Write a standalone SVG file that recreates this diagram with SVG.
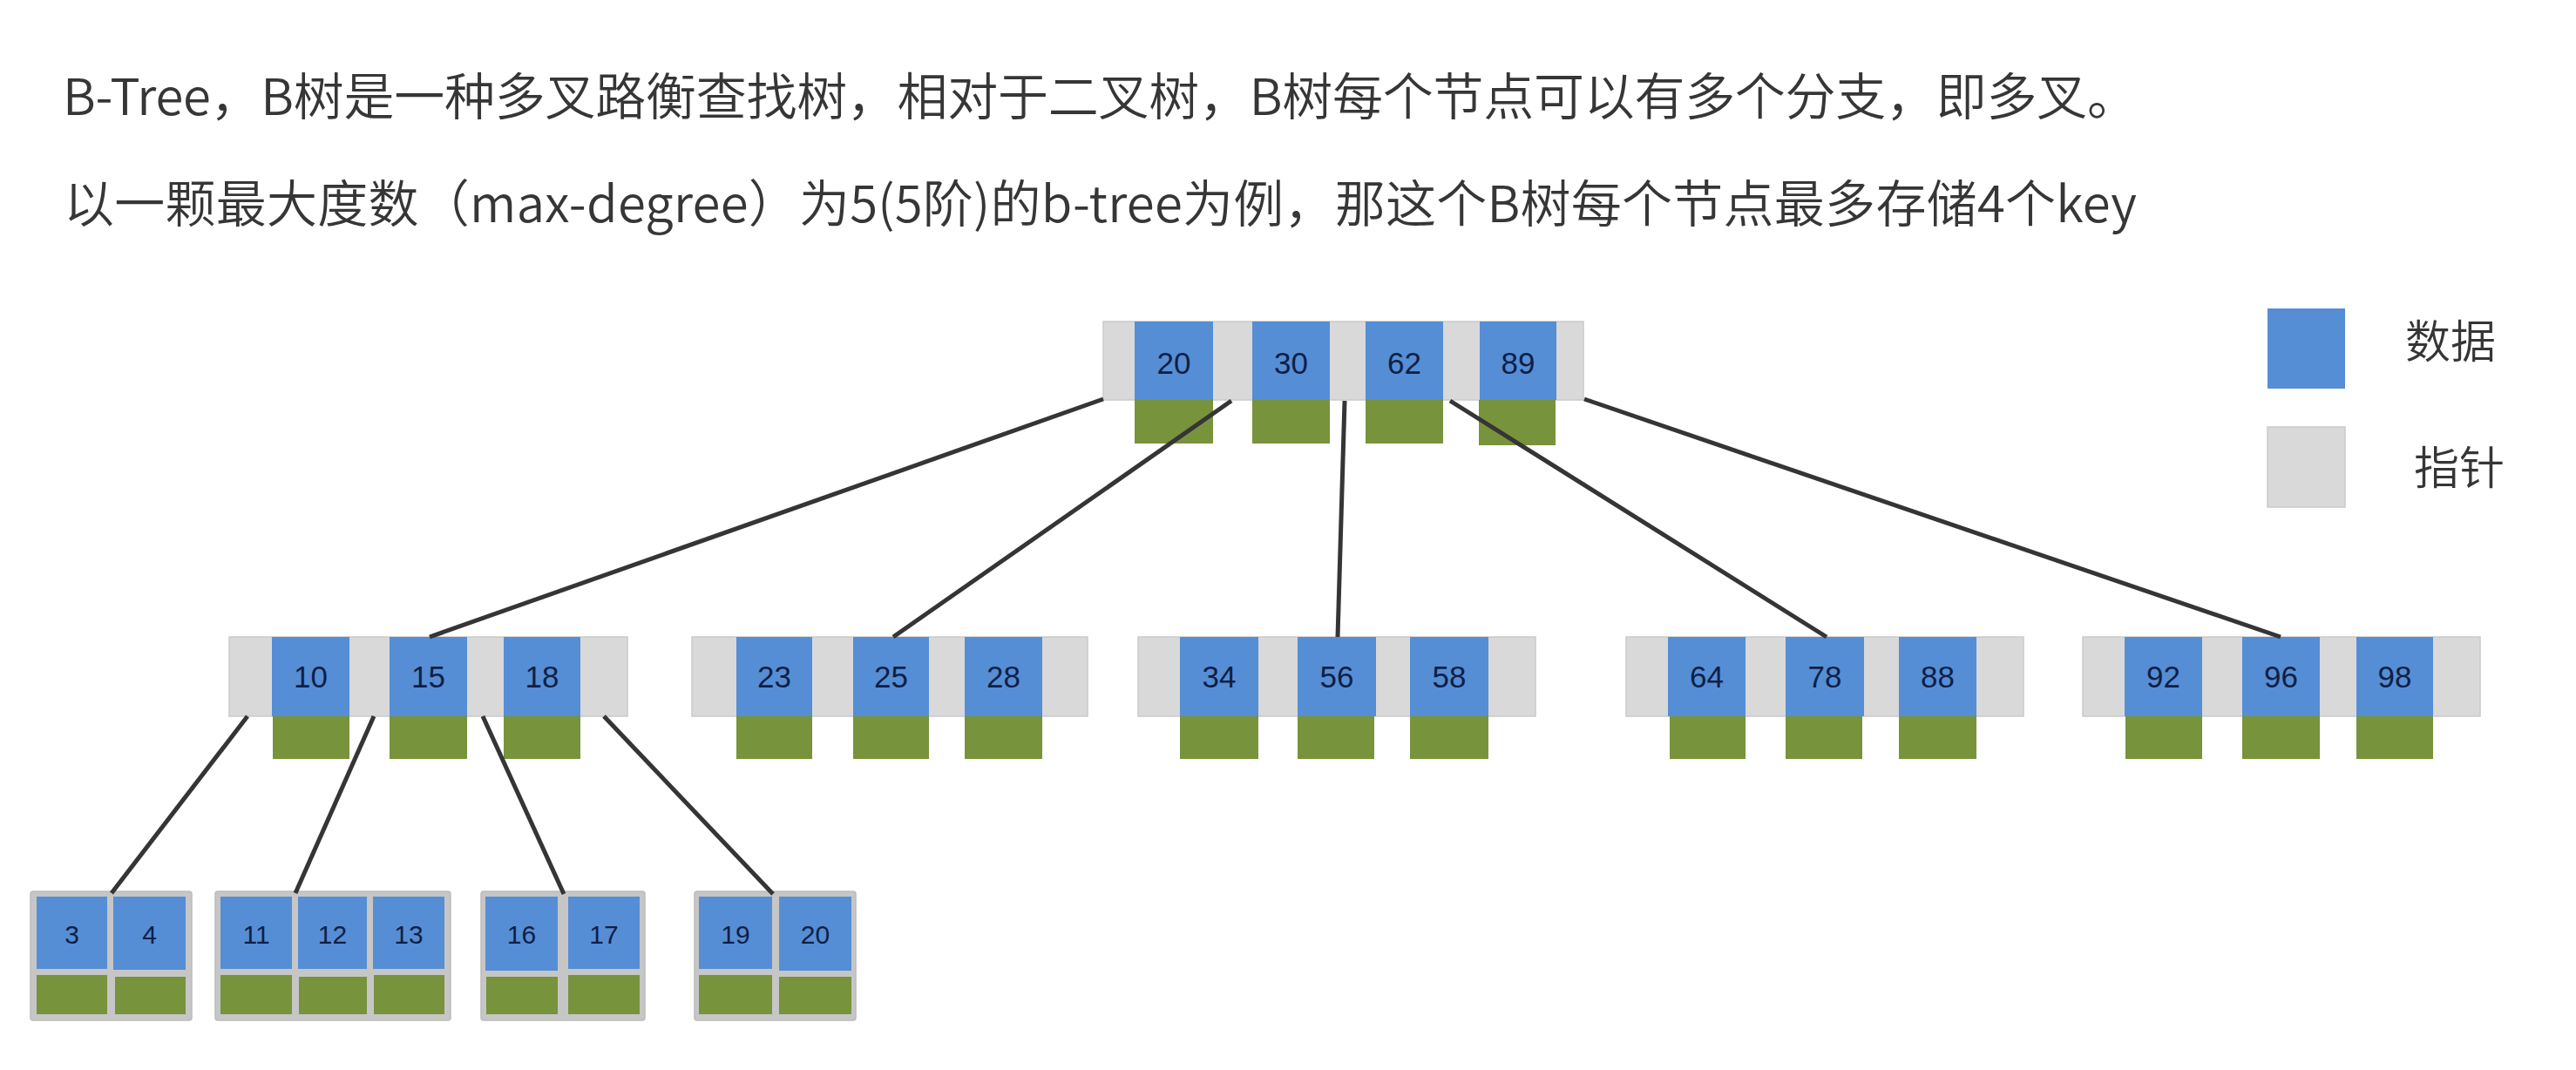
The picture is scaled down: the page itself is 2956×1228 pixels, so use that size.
<svg xmlns="http://www.w3.org/2000/svg" width="2956" height="1228" viewBox="0 0 2956 1228">
<style>
.title{font-family:"Noto Sans CJK SC","Noto Sans",sans-serif;font-size:58px;fill:#363636;font-weight:350}
.leg{font-family:"Noto Sans CJK SC","Noto Sans",sans-serif;font-size:52px;fill:#363636;font-weight:350}
.ptr{fill:#d9d9d9;stroke:#cacaca;stroke-width:1.5}
.key{fill:#558ed5}
.dat{fill:#77933c}
.num{font-family:"Liberation Sans","Noto Sans",sans-serif;font-size:35px;fill:#0f1f47;text-anchor:middle}
.lnum{font-family:"Liberation Sans","Noto Sans",sans-serif;font-size:30px;fill:#0f1f47;text-anchor:middle}
.leaf{fill:#c6c6c6;stroke:#bcbcbc;stroke-width:1.5}
.conn line{stroke:#353535;stroke-width:5;stroke-linecap:butt}
</style>
<rect width="2956" height="1228" fill="#ffffff"/>
<text class="title" x="72" y="132" textLength="2381" lengthAdjust="spacing">B-Tree，B树是一种多叉路衡查找树，相对于二叉树，B树每个节点可以有多个分支，即多叉。</text>
<text class="title" x="73" y="255" textLength="2379" lengthAdjust="spacing">以一颗最大度数（max-degree）为5(5阶)的b-tree为例，那这个B树每个节点最多存储4个key</text>

<g id="legend-data">
<rect class="key" x="2602" y="354" width="89" height="92"/>
<text class="leg" x="2760" y="411">数据</text>
</g>
<g id="legend-pointer">
<rect class="ptr" x="2602" y="490" width="89" height="92"/>
<text class="leg" x="2770" y="556">指针</text>
</g>

<g id="node-root">
<rect class="ptr" x="1266" y="369" width="551" height="90"/>
<rect class="key" x="1302" y="369" width="90" height="90"/>
<rect class="key" x="1437" y="369" width="89" height="90"/>
<rect class="key" x="1567" y="369" width="89" height="90"/>
<rect class="key" x="1698" y="369" width="88" height="90"/>
<rect class="dat" x="1302" y="459" width="90" height="50"/>
<rect class="dat" x="1437" y="459" width="89" height="50"/>
<rect class="dat" x="1567" y="459" width="89" height="50"/>
<rect class="dat" x="1697" y="459" width="88" height="52"/>
<text class="num" x="1347" y="429">20</text>
<text class="num" x="1481.5" y="429">30</text>
<text class="num" x="1611.5" y="429">62</text>
<text class="num" x="1742" y="429">89</text>
</g>

<g id="node-10-15-18">
<rect class="ptr" x="263" y="731" width="457" height="91"/>
<rect class="key" x="312" y="731" width="89" height="91"/>
<rect class="key" x="447" y="731" width="89" height="91"/>
<rect class="key" x="578" y="731" width="88" height="91"/>
<rect class="dat" x="313" y="822" width="88" height="49"/>
<rect class="dat" x="447" y="822" width="89" height="49"/>
<rect class="dat" x="578" y="822" width="88" height="49"/>
<text class="num" x="356.5" y="789">10</text>
<text class="num" x="491.5" y="789">15</text>
<text class="num" x="622" y="789">18</text>
</g>

<g id="node-23-25-28">
<rect class="ptr" x="794" y="731" width="454" height="91"/>
<rect class="key" x="845" y="731" width="87" height="91"/>
<rect class="key" x="979" y="731" width="87" height="91"/>
<rect class="key" x="1107" y="731" width="89" height="91"/>
<rect class="dat" x="845" y="822" width="87" height="49"/>
<rect class="dat" x="979" y="822" width="87" height="49"/>
<rect class="dat" x="1107" y="822" width="89" height="49"/>
<text class="num" x="888.5" y="789">23</text>
<text class="num" x="1022.5" y="789">25</text>
<text class="num" x="1151.5" y="789">28</text>
</g>

<g id="node-34-56-58">
<rect class="ptr" x="1306" y="731" width="456" height="91"/>
<rect class="key" x="1354" y="731" width="90" height="91"/>
<rect class="key" x="1489" y="731" width="90" height="91"/>
<rect class="key" x="1618" y="731" width="90" height="91"/>
<rect class="dat" x="1354" y="822" width="90" height="49"/>
<rect class="dat" x="1489" y="822" width="88" height="49"/>
<rect class="dat" x="1618" y="822" width="90" height="49"/>
<text class="num" x="1399" y="789">34</text>
<text class="num" x="1534" y="789">56</text>
<text class="num" x="1663" y="789">58</text>
</g>

<g id="node-64-78-88">
<rect class="ptr" x="1866" y="731" width="456" height="91"/>
<rect class="key" x="1914" y="731" width="89" height="91"/>
<rect class="key" x="2049" y="731" width="90" height="91"/>
<rect class="key" x="2179" y="731" width="89" height="91"/>
<rect class="dat" x="1916" y="822" width="87" height="49"/>
<rect class="dat" x="2049" y="822" width="88" height="49"/>
<rect class="dat" x="2179" y="822" width="89" height="49"/>
<text class="num" x="1958.5" y="789">64</text>
<text class="num" x="2094" y="789">78</text>
<text class="num" x="2223.5" y="789">88</text>
</g>

<g id="node-92-96-98">
<rect class="ptr" x="2390" y="731" width="456" height="91"/>
<rect class="key" x="2438" y="731" width="89" height="91"/>
<rect class="key" x="2573" y="731" width="89" height="91"/>
<rect class="key" x="2704" y="731" width="88" height="91"/>
<rect class="dat" x="2439" y="822" width="88" height="49"/>
<rect class="dat" x="2573" y="822" width="89" height="49"/>
<rect class="dat" x="2704" y="822" width="88" height="49"/>
<text class="num" x="2482.5" y="789">92</text>
<text class="num" x="2617.5" y="789">96</text>
<text class="num" x="2748" y="789">98</text>
</g>

<g id="leaf-3-4">
<rect class="leaf" x="35" y="1023" width="185" height="148" rx="3"/>
<rect class="key" x="42" y="1029" width="81" height="83"/>
<rect class="key" x="130" y="1029" width="83" height="84"/>
<rect class="dat" x="42" y="1119" width="81" height="45"/>
<rect class="dat" x="132" y="1121" width="81" height="43"/>
<text class="lnum" x="82.5" y="1083">3</text>
<text class="lnum" x="171.5" y="1083">4</text>
</g>

<g id="leaf-11-12-13">
<rect class="leaf" x="247" y="1023" width="270" height="148" rx="3"/>
<rect class="key" x="253" y="1029" width="82" height="83"/>
<rect class="key" x="342" y="1029" width="79" height="83"/>
<rect class="key" x="428" y="1029" width="82" height="83"/>
<rect class="dat" x="253" y="1119" width="82" height="45"/>
<rect class="dat" x="343" y="1121" width="78" height="43"/>
<rect class="dat" x="429" y="1119" width="81" height="45"/>
<text class="lnum" x="294" y="1083">11</text>
<text class="lnum" x="381.5" y="1083">12</text>
<text class="lnum" x="469" y="1083">13</text>
</g>

<g id="leaf-16-17">
<rect class="leaf" x="552" y="1023" width="188" height="148" rx="3"/>
<rect class="key" x="557" y="1029" width="83" height="85"/>
<rect class="key" x="652" y="1029" width="82" height="83"/>
<rect class="dat" x="558" y="1121" width="82" height="43"/>
<rect class="dat" x="652" y="1119" width="82" height="45"/>
<text class="lnum" x="598.5" y="1083">16</text>
<text class="lnum" x="693" y="1083">17</text>
</g>

<g id="leaf-19-20">
<rect class="leaf" x="797" y="1023" width="185" height="148" rx="3"/>
<rect class="key" x="802" y="1029" width="84" height="83"/>
<rect class="key" x="894" y="1029" width="83" height="85"/>
<rect class="dat" x="802" y="1119" width="84" height="45"/>
<rect class="dat" x="894" y="1121" width="83" height="43"/>
<text class="lnum" x="844" y="1083">19</text>
<text class="lnum" x="935.5" y="1083">20</text>
</g>

<g id="connectors" class="conn">
<line x1="1266" y1="458" x2="493" y2="731"/>
<line x1="1413" y1="460" x2="1025" y2="731"/>
<line x1="1543" y1="460" x2="1535" y2="731"/>
<line x1="1664" y1="460" x2="2096" y2="731"/>
<line x1="1818" y1="458" x2="2617" y2="731"/>
<line x1="284" y1="822" x2="128" y2="1025"/>
<line x1="429" y1="822" x2="339" y2="1025"/>
<line x1="554" y1="822" x2="647" y2="1026"/>
<line x1="693" y1="822" x2="887" y2="1026"/>
</g>
</svg>
